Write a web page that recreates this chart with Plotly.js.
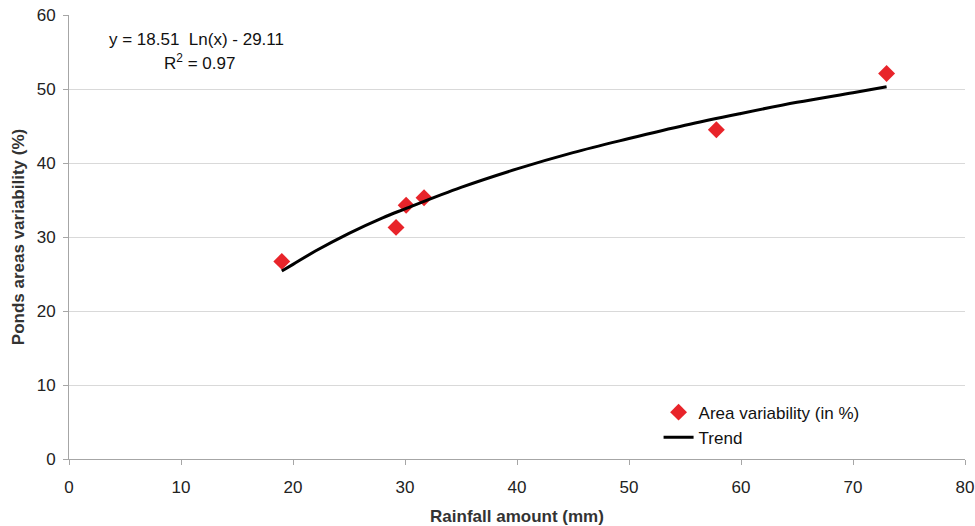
<!DOCTYPE html>
<html>
<head>
<meta charset="utf-8">
<script src="https://cdn.plot.ly/plotly-3.0.1.min.js"></script>
<style>html,body{margin:0;padding:0;background:#fff;}#chart{width:975px;height:526px;}</style>
</head>
<body>
<div id="chart"></div>
<script>
// Observed points
const rainfall = [19.0, 29.2, 30.1, 31.7, 57.8, 73.0];
const variability = [26.7, 31.3, 34.3, 35.3, 44.5, 52.1];
// Trend curve
const trendX = [19, 20, 22, 25, 28, 30, 35, 40, 45, 50, 55, 60, 65, 70, 73];
const trendY = [25.4, 26.3, 28.1, 30.5, 32.6, 33.8, 36.7, 39.2, 41.4, 43.3, 45.1, 46.7, 48.2, 49.5, 50.3];
const xTicks = [0, 10, 20, 30, 40, 50, 60, 70, 80];
const yTicks = [0, 10, 20, 30, 40, 50, 60];

const font = 'Liberation Sans, Arial, sans-serif';
const data = [
  {x: rainfall, y: variability, type: 'scatter', mode: 'markers', name: 'Area variability (in %)',
   marker: {symbol: 'diamond', size: 13, color: '#e8242a'}},
  {x: trendX, y: trendY, type: 'scatter', mode: 'lines', name: 'Trend',
   line: {color: '#000', width: 3, shape: 'spline'}}
];
const layout = {
  width: 975, height: 526,
  margin: {l: 69, r: 10, t: 15, b: 67},
  paper_bgcolor: '#fff', plot_bgcolor: '#fff',
  font: {family: font, size: 17, color: '#222'},
  showlegend: true,
  legend: {x: 0.658, y: 0.145, xanchor: 'left', yanchor: 'top', bgcolor: 'rgba(0,0,0,0)',
           font: {size: 17, color: '#111'}, tracegroupgap: 12, itemwidth: 30},
  xaxis: {range: [0, 80], tickvals: xTicks, showgrid: false, zeroline: false,
          showline: true, linecolor: '#a6a6a6', linewidth: 1, ticks: 'outside', ticklen: 5, tickcolor: '#a6a6a6',
          tickfont: {size: 17, color: '#222'}, ticklabelstandoff: 8,
          title: {text: '<b>Rainfall amount (mm)</b>', font: {size: 17, color: '#333'}, standoff: 14}},
  yaxis: {range: [0, 60], tickvals: yTicks, showgrid: true, gridcolor: '#d9d9d9', zeroline: false,
          showline: true, linecolor: '#a6a6a6', linewidth: 1, ticks: 'outside', ticklen: 5, tickcolor: '#a6a6a6',
          tickfont: {size: 17, color: '#222'}, ticklabelstandoff: 4,
          title: {text: '<b>Ponds areas variability (%)</b>', font: {size: 17, color: '#333'}, standoff: 7}},
  annotations: [
    {xref: 'paper', yref: 'paper', x: (196-69)/896, y: (459-40)/444, xanchor: 'center', yanchor: 'middle',
     text: 'y = 18.51  Ln(x) - 29.11', showarrow: false, font: {size: 17, color: '#111'}},
    {xref: 'paper', yref: 'paper', x: (199-69)/896, y: (459-62)/444, xanchor: 'center', yanchor: 'middle',
     text: 'R<sup>2</sup> = 0.97', showarrow: false, font: {size: 17, color: '#111'}}
  ]
};
Plotly.newPlot('chart', data, layout, {displayModeBar: false, staticPlot: true});
</script>
</body>
</html>
